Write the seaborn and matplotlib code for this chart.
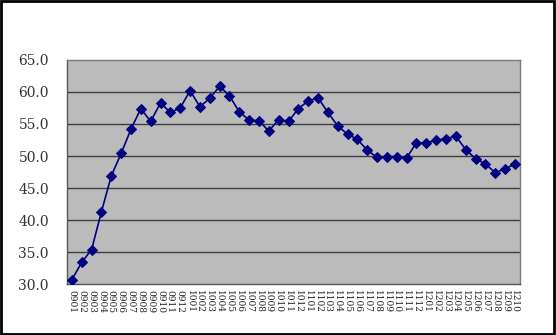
import matplotlib
matplotlib.use("Agg")
import matplotlib.pyplot as plt
import seaborn as sns
import pandas as pd
from matplotlib.patches import Rectangle

months = ["0901", "0902", "0903", "0904", "0905", "0906", "0907", "0908", "0909", "0910", "0911", "0912",
          "1001", "1002", "1003", "1004", "1005", "1006", "1007", "1008", "1009", "1010", "1011", "1012",
          "1101", "1102", "1103", "1104", "1105", "1106", "1107", "1108", "1109", "1110", "1111", "1112",
          "1201", "1202", "1203", "1204", "1205", "1206", "1207", "1208", "1209", "1210"]
values = [30.7, 33.4, 35.4, 41.3, 46.9, 50.4, 54.2, 57.4, 55.4, 58.3, 56.8, 57.5,
          60.2, 57.7, 59.0, 60.9, 59.4, 56.9, 55.6, 55.5, 53.9, 55.7, 55.4, 57.4,
          58.6, 59.1, 56.8, 54.7, 53.4, 52.6, 50.9, 49.8, 49.9, 49.9, 49.7, 52.1,
          52.0, 52.5, 52.7, 53.1, 51.0, 49.6, 48.75, 47.4, 48.0, 48.75]
yticks = [30, 35, 40, 45, 50, 55, 60, 65]

df = pd.DataFrame({"month": months, "value": values})

sns.set_style("white")
plt.rcParams["font.family"] = ["DejaVu Serif"]
plt.rcParams["hatch.color"] = "#a8a8a8"
plt.rcParams["hatch.linewidth"] = 0.5

fig = plt.figure(figsize=(5.56, 3.35), dpi=100)
fig.patch.set_facecolor("white")
bg = Rectangle((0, 0), 1, 1, transform=fig.transFigure, facecolor="white",
               edgecolor="none", hatch=".", zorder=-10)
fig.patches.append(bg)
frame = Rectangle((0.002, 0.003), 0.994, 0.994, transform=fig.transFigure, facecolor="none",
                  edgecolor="black", linewidth=2.0, zorder=5)
fig.patches.append(frame)

ax = fig.add_axes([0.1205, 0.152, 0.8145, 0.669])
ax.set_facecolor("#bbbbbb")
ax.set_zorder(1)

sns.lineplot(data=df, x="month", y="value", ax=ax, sort=False, color="#000080",
             linewidth=1.2, marker="D", markersize=5, markeredgecolor="#000080",
             markerfacecolor="#000080", zorder=3)

ax.set_xlim(-0.5, len(months) - 0.5)
ax.set_ylim(30, 65)
ax.set_yticks(yticks)
ax.set_yticklabels([f"{v:.1f}" for v in yticks], fontsize=10, color="#333333")
ax.set_xticks(range(len(months)))
ax.set_xticklabels(months, rotation=270, fontsize=6.5, color="#222222")
ax.tick_params(axis="y", length=0, pad=13)
ax.tick_params(axis="x", length=0, pad=4)
ax.set_xticks([i - 0.5 for i in range(len(months) + 1)], minor=True)
ax.tick_params(axis="x", which="minor", length=3, color="#555555", width=0.8)

for v in yticks[1:-1]:
    ax.axhline(v, color="#3c3c3c", linewidth=1.0, zorder=1)

for side in ["left", "right", "top", "bottom"]:
    ax.spines[side].set_visible(True)
    ax.spines[side].set_color("#7a7a7a")
    ax.spines[side].set_linewidth(1.0)
ax.spines["bottom"].set_color("#555555")
ax.spines["left"].set_color("#555555")

ax.set_xlabel("")
ax.set_ylabel("")

fig.savefig("out.png", dpi=100)
